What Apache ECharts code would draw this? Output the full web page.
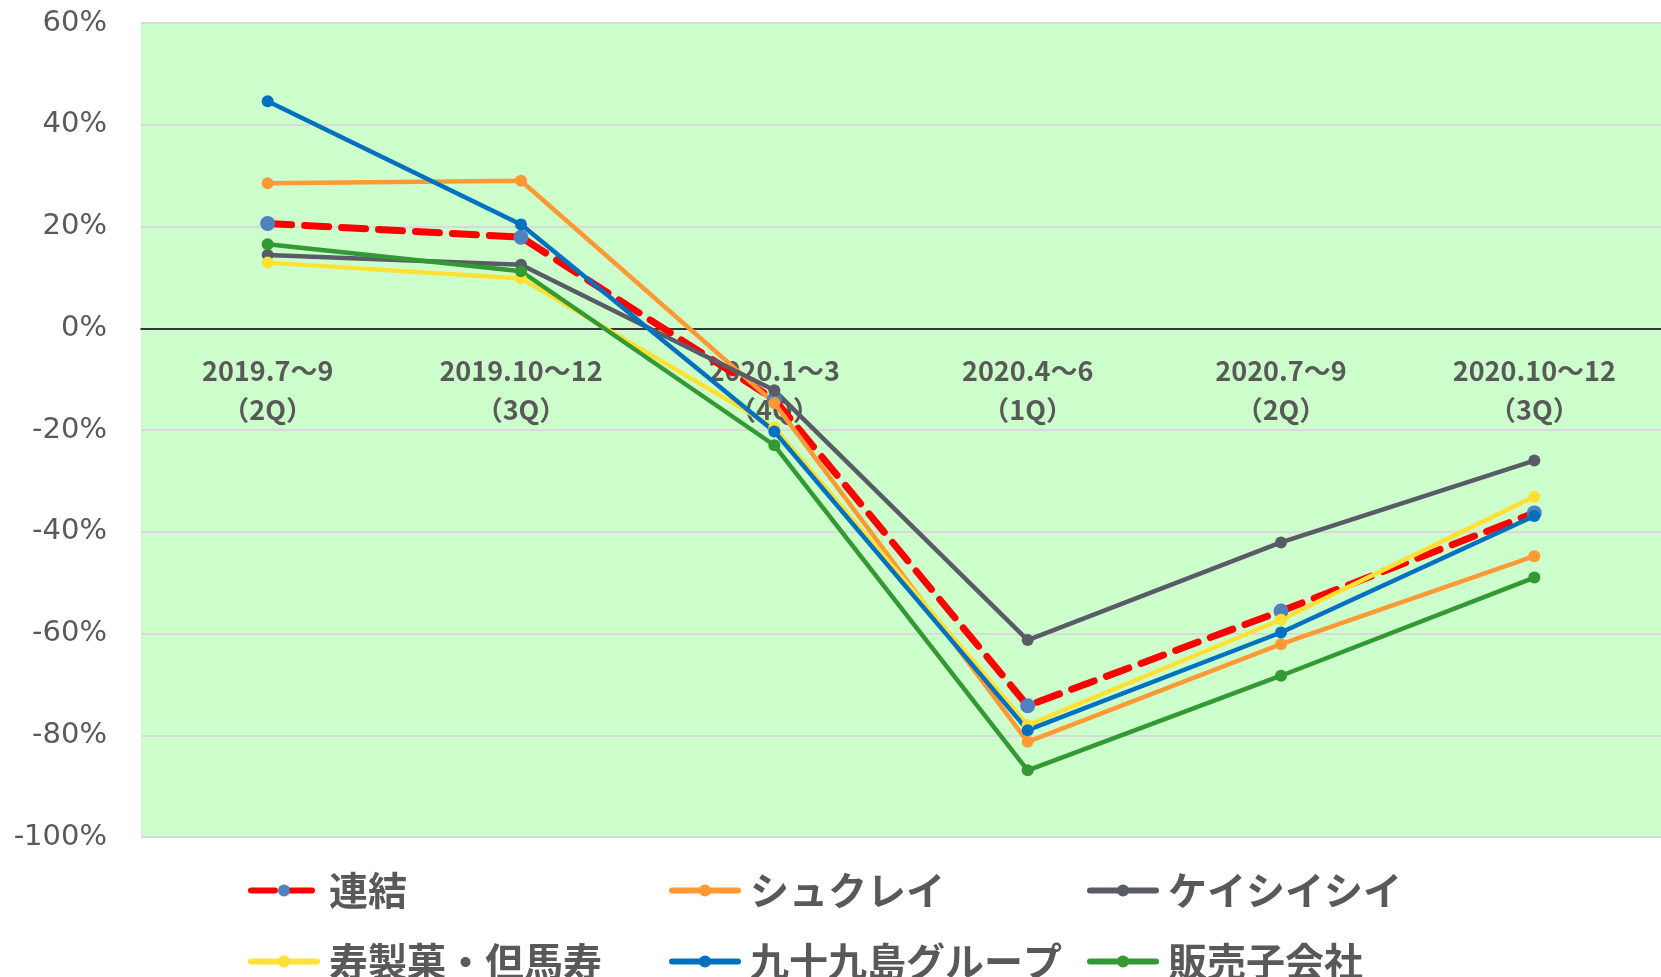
<!DOCTYPE html>
<html>
<head>
<meta charset="utf-8">
<script src="https://cdn.jsdelivr.net/npm/echarts@6/dist/echarts.min.js"></script>
<style>
  html, body { margin: 0; padding: 0; background: #fff; }
  #main { width: 1661px; height: 977px; }
</style>
</head>
<body>
<div id="main"></div>
<script>
// 四半期ラベル
var quarters = ['2019.7～9\n（2Q）', '2019.10～12\n（3Q）', '2020.1～3\n（4Q）', '2020.4～6\n（1Q）', '2020.7～9\n（2Q）', '2020.10～12\n（3Q）'];

// 前年同期比(%)
var renketsu = [20.6, 17.9, -14.0, -74.2, -55.6, -36.3];
var shukurei = [28.5, 29.0, -14.7, -81.3, -62.1, -44.8];
var keishii = [14.4, 12.5, -12.2, -61.3, -42.1, -26.0];
var kotobuki = [12.9, 9.8, -19.5, -78.0, -57.3, -33.1];
var tsukumo = [44.6, 20.4, -20.3, -79.0, -59.8, -36.9];
var hanbai = [16.5, 11.2, -23.0, -86.9, -68.3, -49.0];

var yTicks = { min: -100, max: 60, interval: 20 };

var chart = echarts.init(document.getElementById('main'));

function solid(name, color, data) {
  return {
    name: name,
    type: 'line',
    data: data,
    symbol: 'circle',
    symbolSize: 12,
    itemStyle: { color: color },
    lineStyle: { color: color, width: 4.5 },
    emphasis: { disabled: true }
  };
}

// 凡例は1項目ずつ置く（2段×3列）
function legendItem(left, top, name) {
  return {
    left: left,
    top: top,
    padding: 0,
    itemWidth: 66,
    itemHeight: 15,
    itemGap: 0,
    lineStyle: { width: 6, cap: 'round' },
    textStyle: {
      fontSize: 39, lineHeight: 34, fontWeight: 'bold',
      color: '#595959', fontFamily: 'Noto Sans CJK JP',
      padding: [0, 0, 0, 7]
    },
    data: [name]
  };
}

var option = {
  animation: false,
  grid: {
    left: 141, right: 0, top: 23, bottom: 140,
    show: true, backgroundColor: '#ccffcc', borderWidth: 0
  },
  legend: [
    legendItem(248, 871, '連結'),
    legendItem(669, 871, 'シュクレイ'),
    legendItem(1087, 871, 'ケイシイシイ'),
    legendItem(248, 942, '寿製菓・但馬寿'),
    legendItem(669, 942, '九十九島グループ'),
    legendItem(1087, 942, '販売子会社')
  ],
  xAxis: {
    type: 'category',
    data: quarters,
    axisLine: { onZero: true, lineStyle: { color: '#000', width: 1.5 } },
    axisTick: { show: false },
    axisLabel: {
      interval: 0, margin: -486, lineHeight: 39,
      fontSize: 27, fontWeight: 'bold', color: '#595959',
      fontFamily: 'Noto Sans CJK JP'
    },
    z: 1
  },
  yAxis: {
    type: 'value',
    min: yTicks.min, max: yTicks.max, interval: yTicks.interval,
    axisLine: { show: false },
    axisTick: { show: false },
    splitLine: { lineStyle: { color: '#d9d9d9', width: 2 } },
    axisLabel: {
      formatter: '{value}%', margin: 34,
      fontSize: 29, color: '#595959', fontFamily: 'DejaVu Sans'
    }
  },
  series: [
    {
      name: '連結',
      type: 'line',
      data: renketsu,
      symbol: 'circle',
      symbolSize: 15,
      itemStyle: { color: '#4f81bd' },
      lineStyle: { color: '#ff0000', width: 7, type: [24, 13], cap: 'round' },
      emphasis: { disabled: true },
      z: 3
    },
    solid('シュクレイ', '#ff9933', shukurei),
    solid('ケイシイシイ', '#595b66', keishii),
    solid('寿製菓・但馬寿', '#ffe135', kotobuki),
    solid('九十九島グループ', '#0070c0', tsukumo),
    solid('販売子会社', '#339933', hanbai)
  ]
};

chart.setOption(option);
</script>
</body>
</html>
